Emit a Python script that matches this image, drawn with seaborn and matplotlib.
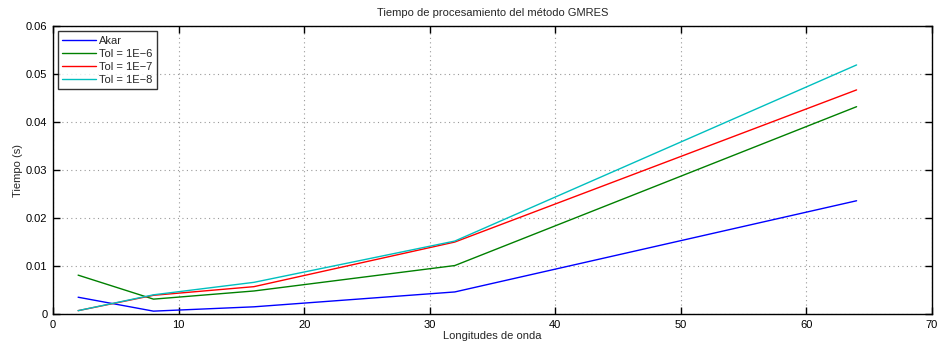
import matplotlib
matplotlib.use("Agg")
import matplotlib.pyplot as plt
import seaborn as sns
import pandas as pd
from matplotlib.ticker import FixedLocator, FixedFormatter

x_vals = [2, 8, 16, 32, 64]
akar = [0.0035, 0.0006, 0.0015, 0.0046, 0.0236]
tol6 = [0.0081, 0.0031, 0.0048, 0.0101, 0.0432]
tol7 = [0.0007, 0.0039, 0.0057, 0.0150, 0.0467]
tol8 = [0.0007, 0.0040, 0.0066, 0.0152, 0.0519]
series_names = ["Akar", "Tol = 1E\u22126", "Tol = 1E\u22127", "Tol = 1E\u22128"]
colors = ["#0000ff", "#008000", "#ff0000", "#00bfbf"]
y_ticks = [0, 0.01, 0.02, 0.03, 0.04, 0.05, 0.06]
y_labels = ["0", "0.01", "0.02", "0.03", "0.04", "0.05", "0.06"]
x_ticks = [0, 10, 20, 30, 40, 50, 60, 70]

rows = []
for name, vals in zip(series_names, [akar, tol6, tol7, tol8]):
    for xv, yv in zip(x_vals, vals):
        rows.append({"x": xv, "y": yv, "serie": name})
df = pd.DataFrame(rows)

sns.set_style("ticks")
plt.rcParams["font.family"] = ["Liberation Sans", "DejaVu Sans"]
plt.rcParams["font.size"] = 8

fig = plt.figure(figsize=(9.4, 3.43), dpi=100)
ax = fig.add_axes([0.0564, 0.0845, 0.935, 0.8395])
sns.lineplot(data=df, x="x", y="y", hue="serie", hue_order=series_names,
             palette=dict(zip(series_names, colors)), linewidth=1.0, ax=ax,
             estimator=None, sort=False)

ax.set_xlim(0, 70)
ax.set_ylim(0, 0.06)
ax.xaxis.set_major_locator(FixedLocator(x_ticks))
ax.yaxis.set_major_locator(FixedLocator(y_ticks))
ax.yaxis.set_major_formatter(FixedFormatter(y_labels))
ax.grid(True, linestyle=(0, (1, 3)), color="#999999", linewidth=0.8)
ax.tick_params(direction="in", top=True, right=True, length=5, width=1,
               labelsize=8, colors="black", pad=4)
for sp in ax.spines.values():
    sp.set_visible(True)
    sp.set_linewidth(1.0)
    sp.set_color("black")

ax.set_xlabel("Longitudes de onda", fontsize=8, labelpad=1)
ax.set_ylabel("Tiempo (s)", fontsize=8, labelpad=2)
ax.set_title("Tiempo de procesamiento del método GMRES", fontsize=8, pad=7)

leg = ax.legend(loc="upper left", fontsize=8, frameon=True, fancybox=False,
                edgecolor="black", borderpad=0.4, labelspacing=0.28,
                handlelength=3.0, handletextpad=0.3, borderaxespad=0.45)
leg.get_frame().set_linewidth(1.0)

fig.savefig("out.png", dpi=100)
